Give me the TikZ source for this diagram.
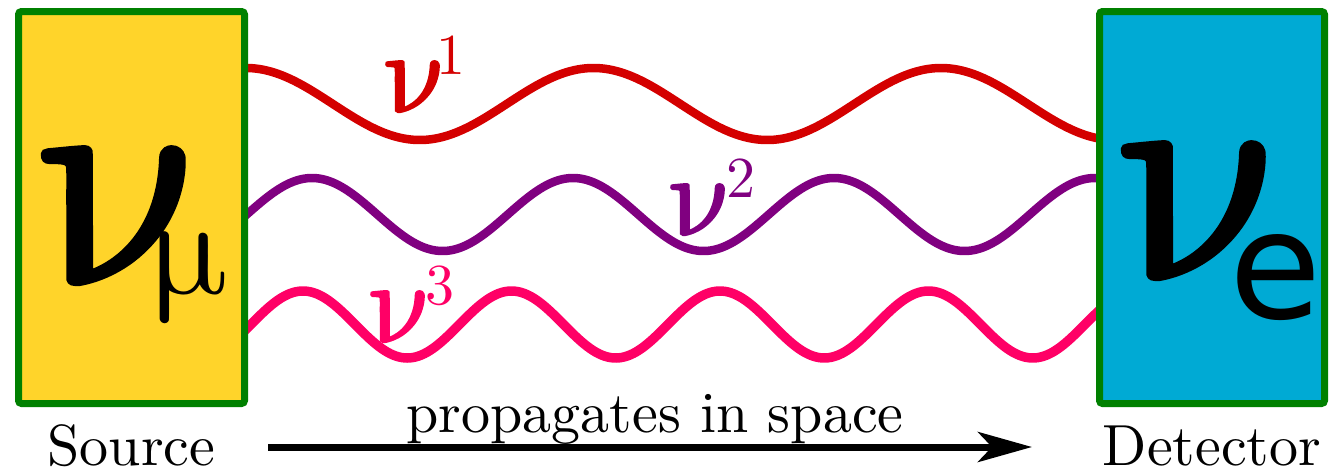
\documentclass[tikz,border=0pt]{standalone}
\usepackage{fontspec}
\newfontfamily\lmnu{latinmodern-math.otf}[FakeSlant=-0.25, FakeBold=2]
\newfontfamily\lmmu{latinmodern-math.otf}[FakeSlant=-0.25]
\newfontfamily\djv{DejaVu Sans}
\usetikzlibrary{arrows.meta}
\definecolor{cred}{HTML}{D40000}
\definecolor{cpurple}{HTML}{800080}
\definecolor{cpink}{HTML}{FF0066}
\definecolor{cyellow}{HTML}{FFD42A}
\definecolor{ccyan}{HTML}{00AAD4}
\definecolor{cgreen}{HTML}{008000}
\newcommand{\nuglyph}[1]{{\lmnu\fontsize{#1}{#1}\selectfont\symbol{"1D708}}}
% small neutrino label with superscript
\newcommand{\wlab}[2]{\rlap{\nuglyph{115}}\hspace*{#1}\raisebox{38pt}{\scalebox{5.8}{#2}}}
\newcommand{\bigtext}[1]{\scalebox{5.8}{#1}}
\tikzset{
  wave/.style={line width=8.5pt, line join=round},
  box/.style={draw=cgreen, line width=7pt, rounded corners=3pt, inner sep=0pt},
  biglab/.style={anchor=base west, inner sep=0pt},
  wlabel/.style={anchor=base west, inner sep=0pt},
  caption/.style={anchor=base, inner sep=0pt},
}
\begin{document}
\begin{tikzpicture}[x=1pt,y=-1pt]
\useasboundingbox (0,0) rectangle (1330,469);
% waves
\draw[wave, cred] plot[domain=244:1100, samples=300] (\x,{104-36*cos((\x-246)/347.5*360)});
\draw[wave, cpurple] plot[domain=244:1100, samples=300] (\x,{214.5-36.5*cos((\x-312)/261*360)});
\draw[wave, cpink, line width=9.5pt] plot[domain=244:1100, samples=300] (\x,{324.5-33.5*cos((\x-303)/208.5*360)});
% boxes
\node[box, fill=cyellow, minimum width=226pt, minimum height=392pt] (src) at (131.5,207.5) {};
\node[box, fill=ccyan, minimum width=225pt, minimum height=392pt] (det) at (1212,207.5) {};
% box labels
\node[biglab] (numu) at (54,283) {\rlap{\nuglyph{305}}\hspace*{95pt}\raisebox{-10pt}{\lmmu\fontsize{140}{140}\selectfont\symbol{"1D707}}};
\node[biglab] (nue) at (1134,278) {\rlap{\nuglyph{305}}\hspace*{95pt}\raisebox{-40pt}{\djv\fontsize{150}{150}\selectfont e}};
% wave labels
\node[wlabel, text=cred] (l1) at (390,112) {\wlab{46pt}{1}};
\node[wlabel, text=cpurple] (l2) at (675,235) {\wlab{51pt}{2}};
\node[wlabel, text=cpink] (l3) at (375,342) {\wlab{50.5pt}{3}};
% captions
\node[caption] (srclab) at (131.5,465) {\bigtext{Source}};
\node[caption] (detlab) at (1212,465) {\bigtext{Detector}};
% arrow
\coordinate (a1) at (268,447);
\coordinate (a2) at (1032,447);
\draw[line width=7pt, -{Stealth[length=54pt,width=30pt,inset=14pt]}] (a1) -- (a2);
\node[caption] (prop) at (655,432) {\bigtext{propagates in space}};
\end{tikzpicture}
\end{document}
